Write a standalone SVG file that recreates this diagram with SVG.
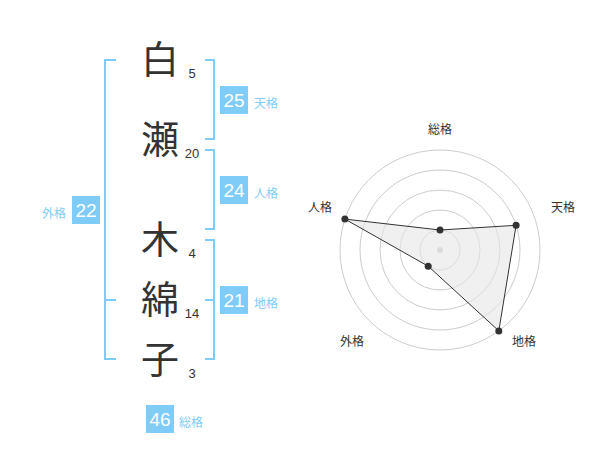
<svg xmlns="http://www.w3.org/2000/svg" width="600" height="470" viewBox="0 0 600 470">
<style>
.kj{font-family:"Noto Sans CJK JP","Noto Sans CJK SC",sans-serif;font-size:38px;fill:#333;text-anchor:middle}
.num{font-family:"Liberation Sans",Arial,sans-serif;font-size:13px;fill:#333;text-anchor:middle}
.box{fill:#80ccf8}
.bv{font-family:"Liberation Sans",Arial,sans-serif;font-size:19px;fill:#fff;text-anchor:middle}
.bl{font-family:"Noto Sans CJK JP","Noto Sans CJK SC",sans-serif;font-size:12px;fill:#80ccf8}
.br{fill:none;stroke:#80ccf8;stroke-width:2}
.ring{fill:none;stroke:#ccc;stroke-width:1}
.rl{font-family:"Noto Sans CJK JP","Noto Sans CJK SC",sans-serif;font-size:12px;fill:#333;text-anchor:middle}
.pt{fill:#333}
</style>
<rect width="600" height="470" fill="#fff"/>
<g id="chars">
<g id="c1"><text class="kj" x="160" y="73">白</text><text class="num" x="192" y="78">5</text></g>
<g id="c2"><text class="kj" x="160" y="153">瀬</text><text class="num" x="192" y="158">20</text></g>
<g id="c3"><text class="kj" x="160" y="253">木</text><text class="num" x="192" y="258">4</text></g>
<g id="c4"><text class="kj" x="160" y="313">綿</text><text class="num" x="192" y="318">14</text></g>
<g id="c5"><text class="kj" x="160" y="373">子</text><text class="num" x="192" y="378">3</text></g>
</g>
<g id="connectors">
<path class="br" d="M116,60 H105 V359 H116 M105,300 H116"/>
<path class="br" d="M205,60 H214 V139 H205"/>
<path class="br" d="M205,150 H214 V229 H205"/>
<path class="br" d="M205,240 H214 V359 H205 M214,300 H205"/>
</g>
<g id="tenkaku"><rect class="box" x="220" y="86" width="28" height="28"/><text class="bv" x="234" y="107">25</text><text class="bl" x="254" y="108">天格</text></g>
<g id="jinkaku"><rect class="box" x="220" y="176" width="28" height="28"/><text class="bv" x="234" y="197">24</text><text class="bl" x="254" y="198">人格</text></g>
<g id="chikaku"><rect class="box" x="220" y="286" width="28" height="28"/><text class="bv" x="234" y="307">21</text><text class="bl" x="254" y="308">地格</text></g>
<g id="gaikaku"><rect class="box" x="72" y="196" width="28" height="28"/><text class="bv" x="86" y="217">22</text><text class="bl" x="66" y="218" text-anchor="end">外格</text></g>
<g id="soukaku"><rect class="box" x="146" y="405" width="28" height="28"/><text class="bv" x="160" y="426">46</text><text class="bl" x="179" y="427">総格</text></g>
<g id="radar">
<circle class="ring" cx="440" cy="250" r="100"/>
<circle class="ring" cx="440" cy="250" r="80"/>
<circle class="ring" cx="440" cy="250" r="60"/>
<circle class="ring" cx="440" cy="250" r="40"/>
<circle class="ring" cx="440" cy="250" r="20"/>
<circle cx="440" cy="250" r="3" fill="#ccc"/>
<polygon points="440,230 516.1,225.3 498.8,330.9 428.2,266.2 344.9,219.1" fill="#e6e6e6" fill-opacity="0.6" stroke="#333" stroke-width="1"/>
<circle class="pt" cx="440" cy="230" r="3.5"/>
<circle class="pt" cx="516.1" cy="225.3" r="3.5"/>
<circle class="pt" cx="498.8" cy="330.9" r="3.5"/>
<circle class="pt" cx="428.2" cy="266.2" r="3.5"/>
<circle class="pt" cx="344.9" cy="219.1" r="3.5"/>
<text class="rl" x="440" y="134">総格</text>
<text class="rl" x="563" y="212">天格</text>
<text class="rl" x="524" y="346">地格</text>
<text class="rl" x="352" y="346">外格</text>
<text class="rl" x="320" y="212">人格</text>
</g>
</svg>
